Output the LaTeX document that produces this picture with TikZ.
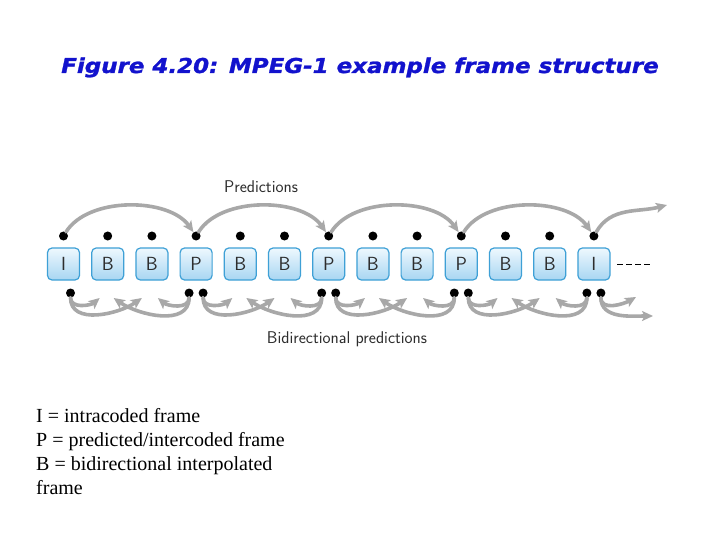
\documentclass[tikz,border=0pt]{standalone}
\usepackage{fontspec}
\usepackage{graphicx}
\setmainfont{Liberation Serif}
\newfontfamily\titlefont[BoldItalicFeatures={FakeBold=1.2}]{DejaVu Sans}
\usetikzlibrary{arrows.meta}
\definecolor{titleblue}{RGB}{18,18,205}
\definecolor{arrowgray}{RGB}{168,168,168}
\definecolor{boxedge}{RGB}{62,160,214}
\definecolor{boxtop}{RGB}{238,248,254}
\definecolor{boxbot}{RGB}{168,214,242}
\definecolor{lettergray}{RGB}{45,45,45}
\begin{document}
\begin{tikzpicture}[x=1pt,y=-1pt,
  framebox/.style={draw=boxedge, line width=1.2pt, rounded corners=4.5pt,
    minimum width=32pt, minimum height=32pt, top color=boxtop, bottom color=boxbot,
    font=\sffamily\fontsize{19}{19}\selectfont, text=lettergray, inner sep=0pt},
  blob/.style={circle, fill=black, minimum size=9pt, inner sep=0pt},
  pred/.style={draw=arrowgray, line width=3.6pt, line cap=round,
    -{Stealth[length=11pt,width=10pt,inset=2.5pt]}},
  figlabel/.style={font=\sffamily\fontsize{17}{17}\selectfont, text=lettergray},
  legend/.style={anchor=base west, font=\fontsize{20}{24}\selectfont, inner sep=0pt},
]
\useasboundingbox[fill=white] (0,0) rectangle (720,540);

% title
\node[font=\titlefont\bfseries\itshape\fontsize{20.5}{20.5}\selectfont, text=titleblue, anchor=base]
  (title) at (360,73) {\scalebox{1.12}[1]{Figure 4.20: MPEG-1 example frame structure}};

% frames and top dots
\foreach \i/\l in {0/I,1/B,2/B,3/P,4/B,5/B,6/P,7/B,8/B,9/P,10/B,11/B,12/I} {
  \node[framebox] (f\i) at ({63.5+44.2*\i},264) {\l};
  \node[blob] (t\i) at ({63.5+44.2*\i},236) {};
}
% bottom dots
\foreach \i in {3,6,9,12} { \node[blob] (bl\i) at ({63.5+44.2*\i-7},293) {}; }
\foreach \i in {0,3,6,9,12} { \node[blob] (br\i) at ({63.5+44.2*\i+7},293) {}; }

% forward predictions (top)
\foreach \a/\b in {0/3,3/6,6/9,9/12} {
  \draw[pred] (t\a) to[out=58,in=125,looseness=0.85] (t\b);
}
\coordinate (topend) at (667,205);
\draw[pred] (t12) to[out=60,in=195] (topend);

% bidirectional predictions (bottom)
\foreach \a/\b/\c/\n in {0/1/2/3,3/4/5/6,6/7/8/9,9/10/11/12} {
  \coordinate (sa\a) at ({63.5+44.2*\b-8},298);
  \coordinate (la\a) at ({63.5+44.2*\c-10},298);
  \coordinate (sb\a) at ({63.5+44.2*\c+6},298);
  \coordinate (lb\a) at ({63.5+44.2*\b+6},298);
  \draw[pred] (br\a) to[out=-90,in=-140] (sa\a);
  \draw[pred] (br\a) to[out=-90,in=-145] (la\a);
  \draw[pred] (bl\n) to[out=-90,in=-40] (sb\a);
  \draw[pred] (bl\n) to[out=-90,in=-35] (lb\a);
}
\coordinate (endshort) at (636,297);
\coordinate (endlong) at (653,316);
\draw[pred] (br12) to[out=-90,in=-150] (endshort);
\draw[pred] (br12) to[out=-90,in=180] (endlong);

% continuation dashes
\coordinate (d1) at (617,264);
\coordinate (d2) at (651,264);
\draw[line width=1pt, dash pattern=on 6pt off 3pt] (d1) -- (d2);

% labels
\node[figlabel] (lp) at (261,187) {Predictions};
\node[figlabel] (lb) at (347,339) {Bidirectional predictions};

% legend
\node[legend] (l1) at (36,422) {I = intracoded frame};
\node[legend] (l2) at (36,446) {P = predicted/intercoded frame};
\node[legend] (l3) at (36,470) {B = bidirectional interpolated};
\node[legend] (l4) at (36,494) {frame};
\end{tikzpicture}
\end{document}
